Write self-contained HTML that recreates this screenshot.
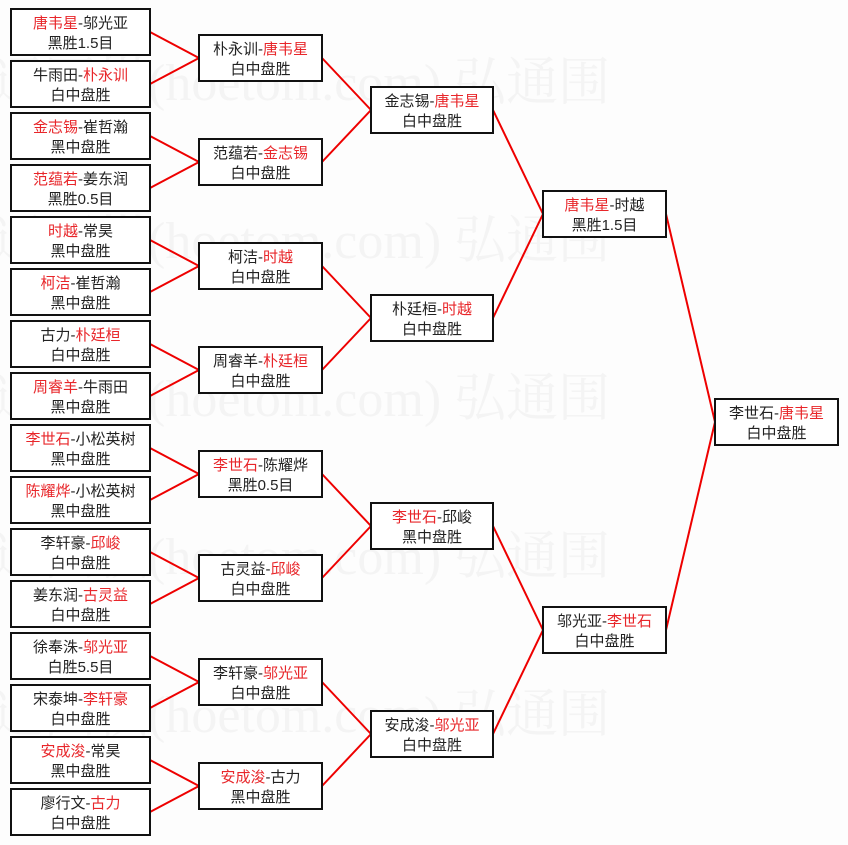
<!DOCTYPE html>
<html><head><meta charset="utf-8"><style>
html,body{margin:0;padding:0;background:#fdfdfd;}
svg{display:block;}
text{font-family:"Liberation Sans","Noto Sans CJK SC",sans-serif;font-size:15px;fill:#222;}
.r{fill:#e8262a;}
.wm{font-size:52px;fill:#f4f4f4;font-family:"Liberation Serif","Noto Serif CJK SC",serif;}
</style></head><body>
<svg width="848" height="845" xmlns="http://www.w3.org/2000/svg">
<g>
<text class="wm" x="-60" y="100">弘通围棋(hoetom.com) 弘通围</text>
<text class="wm" x="-60" y="258">弘通围棋(hoetom.com) 弘通围</text>
<text class="wm" x="-60" y="416">弘通围棋(hoetom.com) 弘通围</text>
<text class="wm" x="-60" y="574">弘通围棋(hoetom.com) 弘通围</text>
<text class="wm" x="-60" y="732">弘通围棋(hoetom.com) 弘通围</text>
</g>
<g id="lines" stroke="#e00" stroke-width="2" fill="none"></g>
<g id="boxes"></g>
</svg>
<script>
const c1=[["唐韦星","-邬光亚","黑胜1.5目",0],["牛雨田-","朴永训","白中盘胜",1],["金志锡","-崔哲瀚","黑中盘胜",0],["范蕴若","-姜东润","黑胜0.5目",0],
["时越","-常昊","黑中盘胜",0],["柯洁","-崔哲瀚","黑中盘胜",0],["古力-","朴廷桓","白中盘胜",1],["周睿羊","-牛雨田","黑中盘胜",0],
["李世石","-小松英树","黑中盘胜",0],["陈耀烨","-小松英树","黑中盘胜",0],["李轩豪-","邱峻","白中盘胜",1],["姜东润-","古灵益","白中盘胜",1],
["徐奉洙-","邬光亚","白胜5.5目",1],["宋泰坤-","李轩豪","白中盘胜",1],["安成浚","-常昊","黑中盘胜",0],["廖行文-","古力","白中盘胜",1]];
const c2=[["朴永训-","唐韦星","白中盘胜",1],["范蕴若-","金志锡","白中盘胜",1],["柯洁-","时越","白中盘胜",1],["周睿羊-","朴廷桓","白中盘胜",1],
["李世石","-陈耀烨","黑胜0.5目",0],["古灵益-","邱峻","白中盘胜",1],["李轩豪-","邬光亚","白中盘胜",1],["安成浚","-古力","黑中盘胜",0]];
const c3=[["金志锡-","唐韦星","白中盘胜",1],["朴廷桓-","时越","白中盘胜",1],["李世石","-邱峻","黑中盘胜",0],["安成浚-","邬光亚","白中盘胜",1]];
const c4=[["唐韦星","-时越","黑胜1.5目",0],["邬光亚-","李世石","白中盘胜",1]];
const c5=[["李世石-","唐韦星","白中盘胜",1]];
const cols=[[c1,11,139,32,52],[c2,199,123,58,104],[c3,371,122,110,208],[c4,543,123,214,416],[c5,715,123,422,0]];
let B='',L='';
cols.forEach(([d,x,w,c0,s],ci)=>{
 d.forEach((e,i)=>{
  const cy=c0+s*i, y=cy-23, cx=x+w/2;
  B+=`<rect x="${x}" y="${y}" width="${w}" height="46" fill="#fff" stroke="#111" stroke-width="2"/>`;
  const a=e[3]?`<tspan>${e[0]}</tspan><tspan class="r">${e[1]}</tspan>`:`<tspan class="r">${e[0]}</tspan><tspan>${e[1]}</tspan>`;
  B+=`<text x="${cx}" y="${y+19}" text-anchor="middle">${a}</text><text x="${cx}" y="${y+39}" text-anchor="middle">${e[2]}</text>`;
  if(ci<4){const n=cols[ci+1];const pcy=n[3]+n[4]*Math.floor(i/2);L+=`<line x1="${x+w}" y1="${cy}" x2="${n[1]}" y2="${pcy}"/>`;}
 });
});
document.getElementById('boxes').innerHTML=B;
document.getElementById('lines').innerHTML=L;
</script>
</body></html>
